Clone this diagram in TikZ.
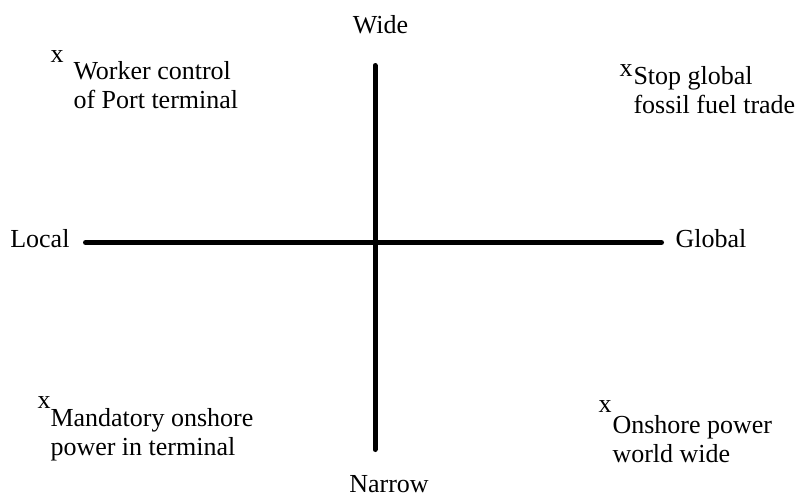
\documentclass[tikz,border=0pt]{standalone}
\usepackage{fontspec}
\setmainfont{Liberation Serif}

\tikzset{every picture/.style={line width=0.75pt}}
\tikzset{
  lbl/.style={inner sep=0pt, font=\fontsize{19.5}{21.75}\selectfont},
  item/.style={lbl, anchor=base west, align=left},
  axisline/.style={line width=3.75pt, line cap=round}
}

\begin{document}
\begin{tikzpicture}[x=0.75pt,y=0.75pt,yscale=-1,xscale=1]
\useasboundingbox (0,0) rectangle (800,497);

%Axis ends
\coordinate (left) at (85.5,242.5);
\coordinate (right) at (661.5,242.5);
\coordinate (top) at (375,65.5);
\coordinate (bottom) at (375,449.5);

%Straight Lines
\draw [axisline] (left) -- (right);
\draw [axisline] (top) -- (bottom);

% Text Node
\node [lbl, anchor=base east] (local) at (70,247) {Local};
% Text Node
\node [lbl, anchor=base west] (global) at (675,247) {Global};
% Text Node
\node [lbl, anchor=base] (wide) at (380.5,33) {Wide};
% Text Node
\node [lbl, anchor=base] (narrow) at (389,492) {Narrow};

% Marks
\node [lbl, anchor=base west] (markA) at (50,62) {x};
\node [lbl, anchor=base west] (markB) at (619,76) {x};
\node [lbl, anchor=base west] (markC) at (37,408) {x};
\node [lbl, anchor=base west] (markD) at (598,412) {x};

% Text Node (anchored at the second line)
\node [item] (worker) at (73,108) {Worker control\\of Port terminal};
% Text Node
\node [item] (stop) at (633,113) {Stop global\\fossil fuel trade};
% Text Node
\node [item] (mandatory) at (50,455) {Mandatory onshore\\power in terminal};
% Text Node
\node [item] (onshore) at (612,462) {Onshore power\\world wide};

\end{tikzpicture}
\end{document}
